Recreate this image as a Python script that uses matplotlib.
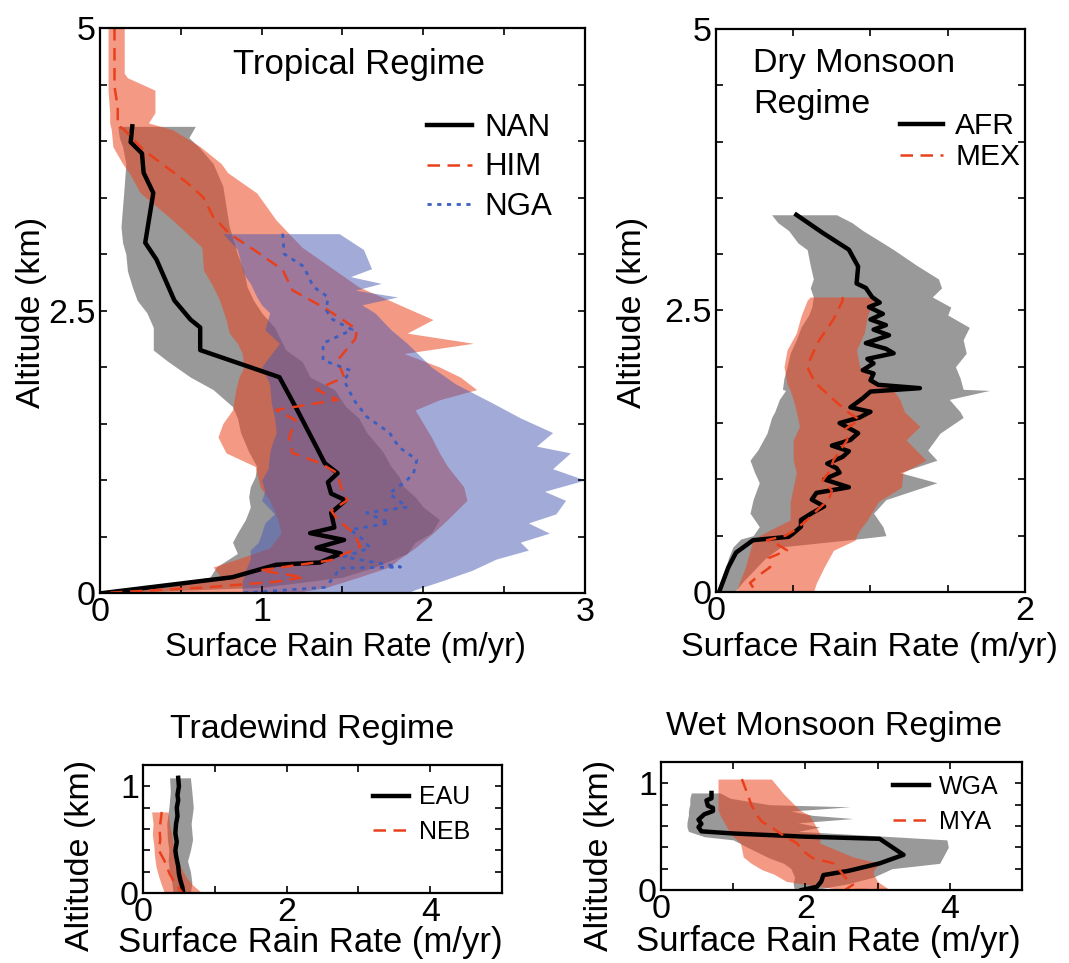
import matplotlib
matplotlib.use("Agg")
import matplotlib.pyplot as plt

plt.rcParams['font.family'] = ['Liberation Sans', 'DejaVu Sans']

# ---- Tropical regime (NAN / HIM / NGA) ----
nan_y = [4.13, 3.99, 3.89, 3.72, 3.54, 3.10, 2.95, 2.59, 2.42, 2.35, 2.15, 1.91, 1.62, 1.29, 1.15,
         1.06, 0.98, 0.88, 0.82, 0.71, 0.58, 0.53, 0.47, 0.40, 0.35, 0.27, 0.25, 0.14, 0.0]
nan_x = [0.20, 0.19, 0.26, 0.27, 0.33, 0.28, 0.35, 0.46, 0.56, 0.62, 0.62, 1.11, 1.22, 1.34, 1.39,
         1.47, 1.41, 1.43, 1.52, 1.43, 1.45, 1.30, 1.51, 1.34, 1.49, 1.36, 1.09, 0.82, 0.02]
nan_band_y = [4.13, 4.03, 3.95, 3.80, 3.60, 3.42, 3.24, 3.10, 3.00, 2.85, 2.71, 2.59, 2.48, 2.35,
              2.15, 2.05, 1.91, 1.80, 1.65, 1.55, 1.42, 1.25, 1.12, 1.03, 0.94, 0.85, 0.76, 0.65,
              0.53, 0.45, 0.35, 0.23, 0.14, 0.05, 0.0]
nan_band_lo = [0.11, 0.12, 0.14, 0.16, 0.15, 0.14, 0.13, 0.14, 0.16, 0.17, 0.20, 0.23, 0.29, 0.33,
               0.33, 0.42, 0.56, 0.70, 0.82, 0.85, 0.87, 0.92, 0.97, 0.96, 0.93, 0.92, 0.93, 0.90,
               0.85, 0.82, 0.85, 0.72, 0.68, 0.30, 0.0]
nan_band_hi = [0.59, 0.55, 0.61, 0.70, 0.76, 0.78, 0.80, 0.83, 0.85, 0.89, 0.91, 0.95, 1.0, 1.08,
               1.15, 1.25, 1.30, 1.45, 1.52, 1.60, 1.65, 1.75, 1.80, 1.85, 1.88, 1.95, 2.00, 2.10,
               2.05, 1.95, 1.90, 1.70, 1.50, 1.00, 0.05]

him_y = [5.0, 4.48, 4.30, 4.14, 4.10, 3.92, 3.77, 3.63, 3.50, 3.33, 3.18, 3.04, 2.86, 2.68, 2.53,
         2.42, 2.33, 2.25, 2.06, 1.91, 1.80, 1.71, 1.62, 1.53, 1.38, 1.24, 1.15, 1.06, 0.94, 0.82,
         0.73, 0.65, 0.53, 0.41, 0.29, 0.20, 0.14, 0.10, 0.05, 0.0]
him_x = [0.09, 0.09, 0.11, 0.11, 0.15, 0.27, 0.41, 0.54, 0.64, 0.70, 0.80, 0.95, 1.13, 1.19, 1.38,
         1.50, 1.59, 1.58, 1.47, 1.51, 1.34, 1.47, 1.09, 1.21, 1.17, 1.19, 1.36, 1.47, 1.49, 1.53,
         1.43, 1.47, 1.57, 1.61, 1.43, 0.99, 1.26, 1.09, 0.66, 0.02]
him_band_y = [5.0, 4.60, 4.56, 4.45, 4.25, 4.16, 4.10, 3.95, 3.80, 3.72, 3.54, 3.30, 3.06, 2.86,
              2.71, 2.59, 2.42, 2.30, 2.21, 2.12, 2.00, 1.91, 1.80, 1.71, 1.62, 1.50, 1.38, 1.24,
              1.12, 0.94, 0.82, 0.65, 0.53, 0.40, 0.30, 0.23, 0.14, 0.05, 0.0]
him_band_lo = [0.05, 0.05, 0.05, 0.05, 0.06, 0.06, 0.07, 0.08, 0.14, 0.18, 0.25, 0.45, 0.63, 0.64,
               0.70, 0.74, 0.78, 0.80, 0.85, 0.88, 0.89, 0.86, 0.84, 0.83, 0.82, 0.76, 0.73, 0.78,
               0.96, 0.99, 1.05, 1.10, 1.12, 1.05, 0.85, 0.70, 0.75, 0.40, 0.0]
him_band_hi = [0.15, 0.15, 0.17, 0.34, 0.34, 0.30, 0.45, 0.62, 0.75, 0.79, 0.97, 1.09, 1.25, 1.45,
               1.60, 1.79, 2.06, 1.90, 2.31, 1.88, 2.10, 2.23, 2.33, 2.10, 1.95, 2.00, 2.05, 2.10,
               2.15, 2.25, 2.27, 2.15, 2.06, 1.95, 1.85, 1.79, 1.60, 1.40, 1.20]

nga_y = [3.18, 3.00, 2.89, 2.71, 2.62, 2.50, 2.42, 2.33, 2.21, 2.06, 1.97, 1.88, 1.71, 1.56, 1.42,
         1.29, 1.18, 1.06, 1.00, 0.88, 0.76, 0.71, 0.62, 0.56, 0.47, 0.40, 0.32, 0.23, 0.22, 0.14,
         0.05, 0.0]
nga_x = [1.13, 1.14, 1.26, 1.32, 1.41, 1.40, 1.44, 1.56, 1.38, 1.38, 1.55, 1.51, 1.57, 1.65, 1.79,
         1.85, 1.96, 1.94, 1.90, 1.79, 1.90, 1.65, 1.79, 1.55, 1.63, 1.67, 1.51, 1.86, 1.48, 1.45,
         1.39, 0.88]
nga_band_y = [3.18, 3.04, 2.87, 2.80, 2.74, 2.68, 2.62, 2.55, 2.48, 2.33, 2.21, 2.00, 1.85, 1.68,
              1.55, 1.42, 1.30, 1.24, 1.10, 1.00, 0.90, 0.82, 0.70, 0.62, 0.53, 0.45, 0.38, 0.30,
              0.20, 0.10, 0.03, 0.0]
nga_band_lo = [0.76, 0.85, 0.88, 0.90, 0.93, 0.95, 0.97, 1.00, 1.05, 1.02, 1.11, 1.00, 1.05, 1.06,
               1.08, 1.09, 1.06, 1.05, 1.04, 1.00, 1.02, 1.00, 1.08, 1.02, 1.00, 0.98, 0.93, 0.93,
               0.90, 0.88, 0.88, 0.88]
nga_band_hi = [1.48, 1.63, 1.68, 1.55, 1.74, 1.58, 1.84, 1.62, 1.70, 1.80, 1.90, 2.05, 2.20, 2.43,
               2.60, 2.80, 2.70, 2.91, 2.80, 3.00, 2.75, 2.88, 2.82, 2.65, 2.78, 2.60, 2.65, 2.45,
               2.30, 2.10, 1.95, 1.90]

# ---- Dry monsoon regime (AFR / MEX) ----
afr_y = [3.35, 3.19, 3.04, 2.89, 2.74, 2.70, 2.62, 2.57, 2.53, 2.47, 2.42, 2.37, 2.33, 2.28, 2.21,
         2.16, 2.12, 2.07, 2.03, 1.97, 1.94, 1.88, 1.84, 1.81, 1.78, 1.72, 1.64, 1.60, 1.55, 1.50,
         1.47, 1.41, 1.35, 1.30, 1.25, 1.20, 1.14, 1.10, 1.06, 1.00, 0.93, 0.88, 0.82, 0.76, 0.70,
         0.64, 0.58, 0.52, 0.49, 0.46, 0.35, 0.22, 0.11, 0.0]
afr_x = [0.52, 0.69, 0.86, 0.92, 0.91, 0.97, 1.01, 1.06, 0.99, 1.08, 1.00, 1.10, 1.02, 1.12, 0.97,
         1.10, 1.15, 0.98, 1.02, 0.95, 1.02, 1.00, 1.05, 1.32, 1.00, 0.95, 0.87, 1.00, 0.93, 0.80,
         0.84, 0.92, 0.87, 0.75, 0.86, 0.82, 0.72, 0.78, 0.80, 0.70, 0.86, 0.65, 0.62, 0.70, 0.62,
         0.55, 0.55, 0.50, 0.47, 0.24, 0.13, 0.08, 0.05, 0.02]
afr_band_y = [3.35, 3.28, 3.21, 3.10, 3.04, 2.90, 2.78, 2.70, 2.62, 2.53, 2.46, 2.35, 2.24, 2.12,
              2.00, 1.90, 1.80, 1.79, 1.71, 1.60, 1.55, 1.41, 1.26, 1.17, 1.06, 0.97, 0.82, 0.70,
              0.58, 0.50, 0.47, 0.40, 0.30, 0.20, 0.10, 0.0]
afr_band_lo = [0.36, 0.40, 0.47, 0.53, 0.59, 0.61, 0.63, 0.61, 0.63, 0.62, 0.60, 0.55, 0.52, 0.48,
               0.46, 0.44, 0.43, 0.45, 0.41, 0.38, 0.36, 0.33, 0.27, 0.22, 0.25, 0.28, 0.24, 0.22,
               0.28, 0.24, 0.16, 0.11, 0.08, 0.06, 0.04, 0.0]
afr_band_hi = [0.78, 0.88, 0.95, 1.08, 1.15, 1.30, 1.44, 1.46, 1.40, 1.52, 1.50, 1.64, 1.60, 1.62,
               1.55, 1.58, 1.60, 1.77, 1.51, 1.58, 1.60, 1.45, 1.37, 1.43, 1.19, 1.43, 1.10, 1.02,
               1.08, 1.10, 0.91, 0.42, 0.32, 0.25, 0.18, 0.12]

mex_y = [2.62, 2.59, 2.42, 2.24, 2.10, 2.00, 1.86, 1.71, 1.60, 1.53, 1.45, 1.35, 1.25, 1.17, 1.08,
         0.99, 0.90, 0.82, 0.72, 0.64, 0.55, 0.50, 0.46, 0.42, 0.37, 0.30, 0.22, 0.15, 0.08, 0.0]
mex_x = [0.82, 0.82, 0.76, 0.67, 0.62, 0.59, 0.64, 0.76, 0.85, 0.93, 0.84, 0.85, 0.80, 0.76, 0.74,
         0.69, 0.75, 0.73, 0.65, 0.59, 0.51, 0.45, 0.33, 0.40, 0.46, 0.34, 0.35, 0.28, 0.22, 0.26]
mex_band_y = [2.62, 2.59, 2.45, 2.30, 2.15, 2.00, 1.85, 1.79, 1.71, 1.60, 1.47, 1.35, 1.17, 1.06,
              0.93, 0.80, 0.64, 0.55, 0.50, 0.46, 0.37, 0.22, 0.08, 0.0]
mex_band_lo = [0.61, 0.59, 0.55, 0.52, 0.46, 0.44, 0.46, 0.48, 0.50, 0.52, 0.54, 0.50, 0.50, 0.52,
               0.50, 0.48, 0.48, 0.35, 0.28, 0.24, 0.22, 0.19, 0.15, 0.13]
mex_band_hi = [1.02, 1.02, 0.98, 0.96, 0.91, 0.93, 1.05, 1.15, 1.19, 1.22, 1.32, 1.23, 1.36, 1.21,
               1.20, 1.05, 0.98, 0.93, 0.91, 0.90, 0.76, 0.70, 0.65, 0.63]

# ---- Tradewind regime (EAU / NEB) ----
eau_y = [1.08, 1.00, 0.92, 0.87, 0.80, 0.72, 0.65, 0.56, 0.48, 0.40, 0.35, 0.25, 0.18, 0.12, 0.05, 0.0]
eau_x = [0.49, 0.50, 0.48, 0.49, 0.47, 0.48, 0.46, 0.45, 0.47, 0.45, 0.46, 0.49, 0.50, 0.52, 0.55, 0.56]
eau_band_y = [1.08, 0.95, 0.80, 0.65, 0.50, 0.40, 0.30, 0.20, 0.10, 0.0]
eau_band_lo = [0.37, 0.38, 0.36, 0.33, 0.34, 0.36, 0.35, 0.37, 0.40, 0.42]
eau_band_hi = [0.66, 0.68, 0.70, 0.67, 0.69, 0.66, 0.62, 0.66, 0.68, 0.66]

neb_y = [0.76, 0.70, 0.60, 0.50, 0.40, 0.30, 0.25, 0.18, 0.12, 0.06, 0.0]
neb_x = [0.26, 0.25, 0.23, 0.24, 0.22, 0.30, 0.33, 0.37, 0.42, 0.48, 0.55]
neb_band_y = [0.76, 0.65, 0.55, 0.45, 0.35, 0.25, 0.15, 0.07, 0.0]
neb_band_lo = [0.12, 0.14, 0.13, 0.15, 0.16, 0.18, 0.22, 0.26, 0.30]
neb_band_hi = [0.35, 0.37, 0.40, 0.42, 0.47, 0.52, 0.60, 0.70, 0.82]

# ---- Wet monsoon regime (WGA / MYA) ----
wga_y = [0.91, 0.86, 0.84, 0.79, 0.77, 0.74, 0.71, 0.66, 0.62, 0.59, 0.55, 0.53, 0.50, 0.48,
         0.33, 0.25, 0.18, 0.14, 0.08, 0.03, 0.0]
wga_x = [0.70, 0.70, 0.63, 0.65, 0.72, 0.72, 0.60, 0.52, 0.56, 0.52, 0.56, 1.00, 2.00, 3.03,
         3.36, 3.03, 2.60, 2.25, 2.22, 2.16, 1.95]
wga_band_y = [0.91, 0.86, 0.80, 0.78, 0.74, 0.70, 0.67, 0.63, 0.59, 0.55, 0.50, 0.47, 0.40, 0.30,
              0.25, 0.20, 0.12, 0.06, 0.0]
wga_band_lo = [0.42, 0.40, 0.40, 0.39, 0.38, 0.38, 0.37, 0.36, 0.36, 0.38, 0.60, 1.00, 1.20, 1.50,
               1.70, 1.80, 1.85, 1.83, 1.85]
wga_band_hi = [0.82, 0.96, 1.50, 2.62, 1.80, 2.10, 2.66, 1.90, 2.20, 1.90, 3.20, 3.96, 3.98, 3.90,
               3.86, 3.20, 2.94, 2.60, 2.11]

mya_y = [1.04, 0.90, 0.80, 0.70, 0.64, 0.58, 0.50, 0.44, 0.36, 0.30, 0.25, 0.18, 0.12, 0.05, 0.0, 0.0]
mya_x = [1.12, 1.20, 1.25, 1.33, 1.40, 1.55, 1.72, 1.88, 1.98, 2.10, 2.39, 2.48, 2.55, 2.66, 2.55, 3.15]
mya_band_y = [1.04, 0.90, 0.75, 0.70, 0.53, 0.44, 0.31, 0.25, 0.19, 0.15, 0.08, 0.0]
mya_band_lo = [0.79, 0.79, 0.79, 0.82, 0.96, 1.10, 1.14, 1.25, 1.40, 1.56, 1.74, 2.53]
mya_band_hi = [1.53, 1.70, 1.92, 2.06, 2.20, 2.20, 2.66, 3.03, 2.95, 2.94, 3.00, 3.17]

GRAY = (0.5, 0.5, 0.5)
ORANGE = (0.92, 0.27, 0.12)
BLUE = (0.28, 0.35, 0.70)
RED = '#e8401c'
BLUE_LINE = '#3b5fc0'
FS = 24.5


def style_axes(ax, xlim, xticks, xlabels, ylim, yticks, ylabels):
    ax.set_xlim(*xlim)
    ax.set_ylim(*ylim)
    ax.set_xticks(xticks)
    ax.set_xticklabels(xlabels)
    ax.set_yticks(yticks)
    ax.set_yticklabels(ylabels)
    ax.tick_params(direction='in', length=5, width=1.2, top=True, right=True,
                   labelsize=FS, pad=3)
    for sp in ax.spines.values():
        sp.set_linewidth(1.6)


def axis_texts(ax, xl_pos, yl_pos, xl_size=FS):
    ax.text(xl_pos[0], xl_pos[1], 'Surface Rain Rate (m/yr)', transform=ax.transAxes,
            ha='center', va='center', fontsize=xl_size)
    ax.text(yl_pos[0], yl_pos[1], 'Altitude (km)', transform=ax.transAxes,
            ha='center', va='center', rotation=90, fontsize=FS)


def add_legend(ax, anchor, size, spacing):
    ax.legend(loc='upper left', bbox_to_anchor=anchor, frameon=False, fontsize=size,
              handlelength=1.45, handletextpad=0.4, labelspacing=spacing,
              borderpad=0, borderaxespad=0)


fig = plt.figure(figsize=(10.69, 9.63), dpi=100)

# Tropical
ax1 = fig.add_axes([0.0935, 0.3842, 0.4537, 0.5867])
ax1.fill_betweenx(nan_band_y, nan_band_lo, nan_band_hi, color=GRAY, alpha=0.8, lw=0)
ax1.fill_betweenx(him_band_y, him_band_lo, him_band_hi, color=ORANGE, alpha=0.55, lw=0)
ax1.fill_betweenx(nga_band_y, nga_band_lo, nga_band_hi, color=BLUE, alpha=0.5, lw=0)
ax1.plot(nan_x, nan_y, color='black', lw=3.2, label='NAN')
ax1.plot(him_x, him_y, color=RED, lw=1.8, dashes=(5, 3), label='HIM')
ax1.plot(nga_x, nga_y, color=BLUE_LINE, lw=2.0, dashes=(1.5, 2), label='NGA')
style_axes(ax1, (0, 3), [0, 0.5, 1, 1.5, 2, 2.5, 3], ['0', '', '1', '', '2', '', '3'],
           (0, 5), [0, 0.5, 1, 1.5, 2, 2.5, 3, 3.5, 4, 4.5, 5],
           ['0', '', '', '', '', '2.5', '', '', '', '', '5'])
ax1.text(1.6, 4.68, 'Tropical Regime', ha='center', va='center', fontsize=25)
add_legend(ax1, (0.674, 0.85), 22.5, 0.31)
axis_texts(ax1, (0.507, -0.097), (-0.142, 0.497), xl_size=23.5)

# Dry monsoon
ax2 = fig.add_axes([0.6698, 0.3853, 0.289, 0.5846])
ax2.fill_betweenx(afr_band_y, afr_band_lo, afr_band_hi, color=GRAY, alpha=0.8, lw=0)
ax2.plot(afr_x, afr_y, color='black', lw=3.2, label='AFR')
ax2.fill_betweenx(mex_band_y, mex_band_lo, mex_band_hi, color=ORANGE, alpha=0.55, lw=0)
ax2.plot(mex_x, mex_y, color=RED, lw=1.8, dashes=(5, 3), label='MEX')
style_axes(ax2, (0, 2), [0, 0.5, 1, 1.5, 2], ['0', '', '', '', '2'],
           (0, 5), [0, 0.5, 1, 1.5, 2, 2.5, 3, 3.5, 4, 4.5, 5],
           ['0', '', '', '', '', '2.5', '', '', '', '', '5'])
ax2.text(0.24, 4.83, 'Dry Monsoon\nRegime', ha='left', va='top', fontsize=FS, linespacing=1.4)
add_legend(ax2, (0.595, 0.852), 21.5, 0.1)
axis_texts(ax2, (0.498, -0.0995), (-0.269, 0.497))

# Tradewind
ax3 = fig.add_axes([0.1338, 0.0727, 0.3358, 0.1329])
ax3.fill_betweenx(eau_band_y, eau_band_lo, eau_band_hi, color=GRAY, alpha=0.8, lw=0)
ax3.fill_betweenx(neb_band_y, neb_band_lo, neb_band_hi, color=ORANGE, alpha=0.55, lw=0)
ax3.plot(eau_x, eau_y, color='black', lw=3.2, label='EAU')
ax3.plot(neb_x, neb_y, color=RED, lw=1.8, dashes=(5, 3), label='NEB')
style_axes(ax3, (0, 5), [0, 1, 2, 3, 4, 5], ['0', '', '2', '', '4', ''],
           (0, 1.2), [0, 0.2, 0.4, 0.6, 0.8, 1.0], ['0', '', '', '', '', '1'])
ax3.text(0.47, 1.28, 'Tradewind Regime', transform=ax3.transAxes, ha='center', va='center',
         fontsize=FS)
add_legend(ax3, (0.64, 0.84), 18, 0.43)
axis_texts(ax3, (0.465, -0.383), (-0.175, 0.297), xl_size=25)

# Wet monsoon
ax4 = fig.add_axes([0.6183, 0.0758, 0.3377, 0.1329])
ax4.fill_betweenx(wga_band_y, wga_band_lo, wga_band_hi, color=GRAY, alpha=0.8, lw=0)
ax4.fill_betweenx(mya_band_y, mya_band_lo, mya_band_hi, color=ORANGE, alpha=0.55, lw=0)
ax4.plot(wga_x, wga_y, color='black', lw=3.2, label='WGA')
ax4.plot(mya_x, mya_y, color=RED, lw=1.8, dashes=(5, 3), label='MYA')
style_axes(ax4, (0, 5), [0, 1, 2, 3, 4, 5], ['0', '', '2', '', '4', ''],
           (0, 1.2), [0, 0.2, 0.4, 0.6, 0.8, 1.0], ['0', '', '', '', '', '1'])
ax4.text(0.48, 1.28, 'Wet Monsoon Regime', transform=ax4.transAxes, ha='center', va='center',
         fontsize=FS)
add_legend(ax4, (0.643, 0.90), 18, 0.43)
axis_texts(ax4, (0.463, -0.406), (-0.169, 0.273), xl_size=25)

fig.savefig('out.png', dpi=100)
